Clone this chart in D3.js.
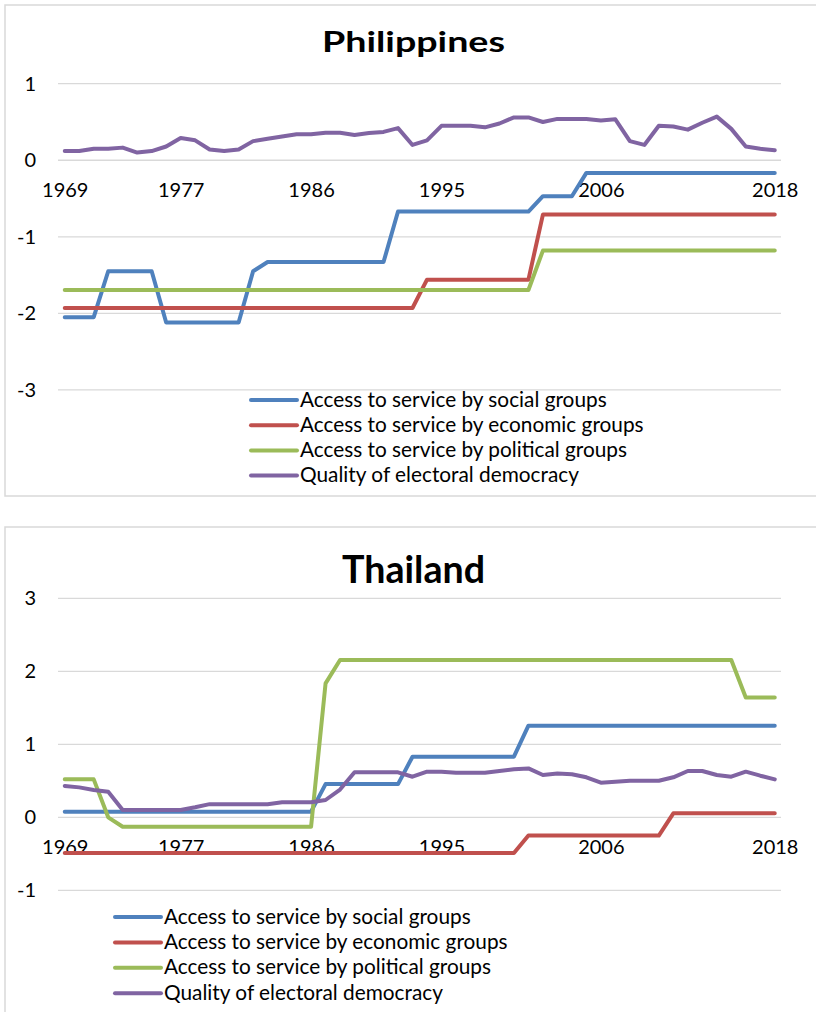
<!DOCTYPE html>
<html>
<head>
<meta charset="utf-8">
<script src="https://cdn.jsdelivr.net/npm/d3@7"></script>
<style>
  body { margin: 0; background: #fff; }
  svg { display: block; }
</style>
</head>
<body>
<main></main>
<script>
const years = [
  1969, 1970, 1971, 1972, 1973, 1974, 1975, 1976, 1977, 1978,
  1979, 1980, 1981, 1982, 1983, 1984, 1985, 1986, 1987, 1988,
  1989, 1990, 1991, 1992, 1993, 1994, 1995, 1996, 1997, 1998,
  1999, 2000, 2001, 2002, 2003, 2004, 2005, 2006, 2007, 2008,
  2009, 2010, 2011, 2012, 2013, 2014, 2015, 2016, 2017, 2018
]
const tickYears = [1969, 1977, 1986, 1995, 2006, 2018]
const seriesNames = [
  'Access to service by social groups',
  'Access to service by economic groups',
  'Access to service by political groups',
  'Quality of electoral democracy'
]

// Philippines
const phTicks = [1, 0, -1, -2, -3]
const phSocial = [
  -2.05, -2.05, -2.05, -1.45, -1.45, -1.45, -1.45, -2.12, -2.12, -2.12,
  -2.12, -2.12, -2.12, -1.45, -1.33, -1.33, -1.33, -1.33, -1.33, -1.33,
  -1.33, -1.33, -1.33, -0.67, -0.67, -0.67, -0.67, -0.67, -0.67, -0.67,
  -0.67, -0.67, -0.67, -0.47, -0.47, -0.47, -0.165, -0.165, -0.165, -0.165,
  -0.165, -0.165, -0.165, -0.165, -0.165, -0.165, -0.165, -0.165, -0.165, -0.165
]
const phEconomic = [
  -1.93, -1.93, -1.93, -1.93, -1.93, -1.93, -1.93, -1.93, -1.93, -1.93,
  -1.93, -1.93, -1.93, -1.93, -1.93, -1.93, -1.93, -1.93, -1.93, -1.93,
  -1.93, -1.93, -1.93, -1.93, -1.93, -1.56, -1.56, -1.56, -1.56, -1.56,
  -1.56, -1.56, -1.56, -0.71, -0.71, -0.71, -0.71, -0.71, -0.71, -0.71,
  -0.71, -0.71, -0.71, -0.71, -0.71, -0.71, -0.71, -0.71, -0.71, -0.71
]
const phPolitical = [
  -1.695, -1.695, -1.695, -1.695, -1.695, -1.695, -1.695, -1.695, -1.695, -1.695,
  -1.695, -1.695, -1.695, -1.695, -1.695, -1.695, -1.695, -1.695, -1.695, -1.695,
  -1.695, -1.695, -1.695, -1.695, -1.695, -1.695, -1.695, -1.695, -1.695, -1.695,
  -1.695, -1.695, -1.695, -1.18, -1.18, -1.18, -1.18, -1.18, -1.18, -1.18,
  -1.18, -1.18, -1.18, -1.18, -1.18, -1.18, -1.18, -1.18, -1.18, -1.18
]
const phQuality = [
  0.12, 0.12, 0.15, 0.15, 0.165, 0.10, 0.12, 0.18, 0.29, 0.26,
  0.14, 0.12, 0.14, 0.25, 0.28, 0.31, 0.34, 0.34, 0.36, 0.36,
  0.33, 0.355, 0.37, 0.42, 0.20, 0.26, 0.45, 0.45, 0.45, 0.43,
  0.48, 0.56, 0.56, 0.50, 0.54, 0.54, 0.54, 0.52, 0.535, 0.25,
  0.20, 0.45, 0.44, 0.40, 0.49, 0.57, 0.41, 0.18, 0.15, 0.13
]

// Thailand
const thTicks = [3, 2, 1, 0, -1]
const thSocial = [
  0.077, 0.077, 0.077, 0.077, 0.077, 0.077, 0.077, 0.077, 0.077, 0.077,
  0.077, 0.077, 0.077, 0.077, 0.077, 0.077, 0.077, 0.077, 0.455, 0.455,
  0.455, 0.455, 0.455, 0.455, 0.83, 0.83, 0.83, 0.83, 0.83, 0.83,
  0.83, 0.83, 1.255, 1.255, 1.255, 1.255, 1.255, 1.255, 1.255, 1.255,
  1.255, 1.255, 1.255, 1.255, 1.255, 1.255, 1.255, 1.255, 1.255, 1.255
]
const thEconomic = [
  -0.49, -0.49, -0.49, -0.49, -0.49, -0.49, -0.49, -0.49, -0.49, -0.49,
  -0.49, -0.49, -0.49, -0.49, -0.49, -0.49, -0.49, -0.49, -0.49, -0.49,
  -0.49, -0.49, -0.49, -0.49, -0.49, -0.49, -0.49, -0.49, -0.49, -0.49,
  -0.49, -0.49, -0.25, -0.25, -0.25, -0.25, -0.25, -0.25, -0.25, -0.25,
  -0.25, -0.25, 0.055, 0.055, 0.055, 0.055, 0.055, 0.055, 0.055, 0.055
]
const thPolitical = [
  0.52, 0.52, 0.52, 0.0, -0.13, -0.13, -0.13, -0.13, -0.13, -0.13,
  -0.13, -0.13, -0.13, -0.13, -0.13, -0.13, -0.13, -0.13, 1.835, 2.155,
  2.155, 2.155, 2.155, 2.155, 2.155, 2.155, 2.155, 2.155, 2.155, 2.155,
  2.155, 2.155, 2.155, 2.155, 2.155, 2.155, 2.155, 2.155, 2.155, 2.155,
  2.155, 2.155, 2.155, 2.155, 2.155, 2.155, 2.155, 1.64, 1.64, 1.64
]
const thQuality = [
  0.43, 0.41, 0.375, 0.35, 0.10, 0.10, 0.10, 0.10, 0.10, 0.137,
  0.18, 0.18, 0.18, 0.18, 0.18, 0.205, 0.205, 0.205, 0.237, 0.38,
  0.616, 0.616, 0.616, 0.616, 0.556, 0.625, 0.625, 0.61, 0.61, 0.61,
  0.634, 0.657, 0.67, 0.58, 0.60, 0.59, 0.548, 0.474, 0.488, 0.50,
  0.50, 0.50, 0.548, 0.634, 0.634, 0.58, 0.556, 0.625, 0.57, 0.52
]

const colors = ['#4f81bd', '#c0504d', '#9bbb59', '#8064a2']
const font = 'Lato, "Open Sans", sans-serif'
const width = 816
const height = 1012

const svg = d3.select('main')
              .append('svg')
              .attr('width', width)
              .attr('height', height)

const drawChart = (cfg) => {
  const g = svg.append('g')

  // chart frame
  g.append('rect')
    .attr('x', cfg.frame[0])
    .attr('y', cfg.frame[1])
    .attr('width', cfg.frame[2])
    .attr('height', cfg.frame[3])
    .attr('fill', '#fff')
    .attr('stroke', '#d9d9d9')
    .attr('stroke-width', 1.5)

  g.append('text')
    .attr('x', 413.5)
    .attr('y', cfg.titleY)
    .attr('text-anchor', 'middle')
    .attr('font-family', font)
    .attr('font-weight', 'bold')
    .attr('font-size', cfg.titleSize)
    .attr('textLength', cfg.titleWidth)
    .attr('lengthAdjust', 'spacingAndGlyphs')
    .text(cfg.title)

  const xScale = d3.scalePoint()
                  .domain(years)
                  .range([57.5, 782])
                  .padding(0.5)
  const yScale = d3.scaleLinear()
                  .domain(d3.extent(cfg.ticks))
                  .range(cfg.yRange)

  g.selectAll('line.grid')
    .data(cfg.ticks)
    .enter()
    .append('line')
    .attr('class', 'grid')
    .attr('x1', 58)
    .attr('x2', 781)
    .attr('y1', d => yScale(d))
    .attr('y2', d => yScale(d))
    .attr('stroke', '#d9d9d9')
    .attr('stroke-width', 1.3)

  const yAxis = g.append('g')
                .attr('transform', 'translate(58,0)')
                .call(d3.axisLeft(yScale).tickValues(cfg.ticks).tickSize(0).tickPadding(22).tickFormat(d => String(d)))
  const xAxis = g.append('g')
                .attr('transform', `translate(0,${yScale(0)})`)
                .call(d3.axisBottom(xScale).tickValues(tickYears).tickSize(0).tickPadding(22.5))

  ;[xAxis, yAxis].forEach(ax => {
    ax.select('.domain').remove()
    ax.attr('font-family', font).attr('font-size', 20)
    ax.selectAll('text').attr('fill', '#000')
  })

  const line = d3.line()
                .x((d, i) => xScale(years[i]))
                .y(d => yScale(d))

  g.selectAll('path.series')
    .data(cfg.series)
    .enter()
    .append('path')
    .attr('class', 'series')
    .attr('d', d => line(d))
    .attr('fill', 'none')
    .attr('stroke', (d, i) => colors[i])
    .attr('stroke-width', 4)
    .attr('stroke-linejoin', 'round')
    .attr('stroke-linecap', 'round')

  // legend
  const leg = g.selectAll('g.legend')
              .data(seriesNames)
              .enter()
              .append('g')
              .attr('class', 'legend')
              .attr('transform', (d, i) => `translate(0,${cfg.legend.y + i * cfg.legend.step})`)
  leg.append('line')
    .attr('x1', cfg.legend.x)
    .attr('x2', cfg.legend.x + 46)
    .attr('stroke', (d, i) => colors[i])
    .attr('stroke-width', 4)
    .attr('stroke-linecap', 'round')
  leg.append('text')
    .attr('x', cfg.legend.x + 49)
    .attr('y', 6.5)
    .attr('font-family', font)
    .attr('font-size', 20.8)
    .attr('fill', '#000')
    .text(d => d)
}

drawChart({
  title: 'Philippines',
  titleY: 52,
  titleSize: 29,
  titleWidth: 183,
  frame: [5, 5, 830, 491],
  ticks: phTicks,
  yRange: [389.9, 83.7],
  series: [phSocial, phEconomic, phPolitical, phQuality],
  legend: { x: 251, y: 400, step: 25.2 }
})

drawChart({
  title: 'Thailand',
  titleY: 582.7,
  titleSize: 38,
  titleWidth: 143,
  frame: [5, 527, 830, 520],
  ticks: thTicks,
  yRange: [890.3, 598.3],
  series: [thSocial, thEconomic, thPolitical, thQuality],
  legend: { x: 115, y: 917, step: 25.4 }
})
</script>
</body>
</html>
